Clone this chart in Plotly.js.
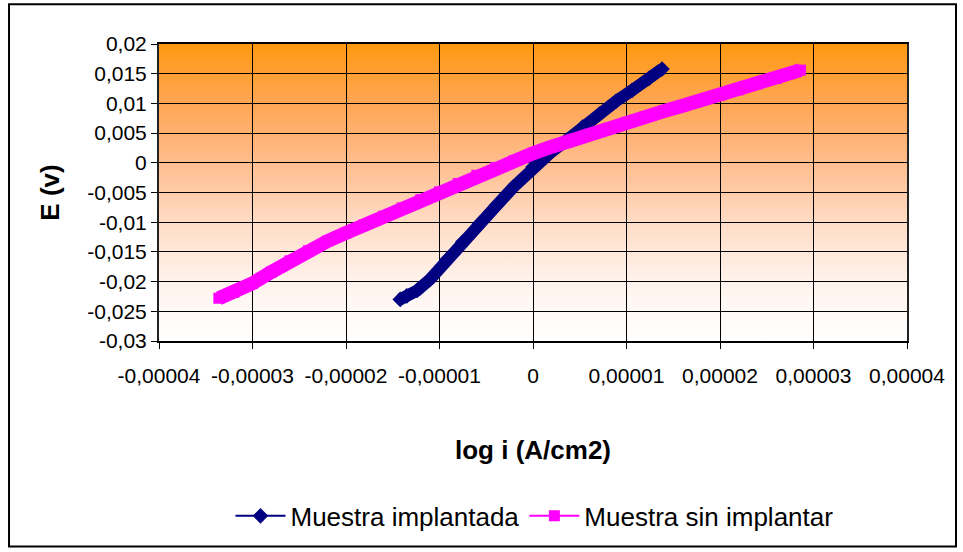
<!DOCTYPE html>
<html>
<head>
<meta charset="utf-8">
<script src="https://cdn.plot.ly/plotly-3.0.1.min.js"></script>
<style>
  body { margin: 0; background: #fff; }
  #chart { width: 963px; height: 552px; }
</style>
</head>
<body>
<div id="chart"></div>
<script>
// Muestra implantada (azul)
var implantadaX = [-1.42e-5, -1.35e-5, -1.24e-5, -1.10e-5, -0.92e-5, -0.75e-5, -0.57e-5, -0.39e-5, -0.21e-5,
                   0, 0.18e-5, 0.36e-5, 0.53e-5, 0.71e-5, 0.89e-5, 1.06e-5, 1.24e-5, 1.38e-5];
var implantadaY = [-0.0230, -0.0224, -0.0215, -0.0196, -0.0163, -0.0133, -0.0102, -0.0072, -0.0041,
                   -0.0007, 0.0016, 0.0038, 0.0060, 0.0082, 0.0104, 0.0122, 0.0142, 0.0158];

// Muestra sin implantar (rosa)
var sinImplantarX = [-3.36e-5, -3.2e-5, -3.0e-5, -2.8e-5, -2.6e-5, -2.4e-5, -2.2e-5, -2.0e-5, -1.8e-5, -1.6e-5,
                     -1.4e-5, -1.2e-5, -1.0e-5, -0.8e-5, -0.6e-5, -0.4e-5, -0.2e-5, 0, 0.2e-5, 0.4e-5,
                     0.6e-5, 0.8e-5, 1.0e-5, 1.2e-5, 1.4e-5, 1.6e-5, 1.8e-5, 2.0e-5, 2.2e-5, 2.4e-5,
                     2.6e-5, 2.86e-5];
var sinImplantarY = [-0.0228, -0.0218, -0.0203, -0.0184, -0.0165, -0.0148, -0.0132, -0.0118, -0.0104, -0.0090,
                     -0.0076, -0.0062, -0.0049, -0.0035, -0.0021, -0.0008, 0.0004, 0.0016, 0.0027, 0.0038,
                     0.0048, 0.0058, 0.0068, 0.0078, 0.0087, 0.0096, 0.0105, 0.0114, 0.0123, 0.0133,
                     0.0142, 0.0156];

var xTickVals = [-4e-5, -3e-5, -2e-5, -1e-5, 0, 1e-5, 2e-5, 3e-5, 4e-5];
var xTickText = ['-0,00004', '-0,00003', '-0,00002', '-0,00001', '0', '0,00001', '0,00002', '0,00003', '0,00004'];
var yTickVals = [-0.03, -0.025, -0.02, -0.015, -0.01, -0.005, 0, 0.005, 0.01, 0.015, 0.02];
var yTickText = ['-0,03', '-0,025', '-0,02', '-0,015', '-0,01', '-0,005', '0', '0,005', '0,01', '0,015', '0,02'];

var NAVY = '#000080';
var MAGENTA = '#FF00FF';
var FONT = 'Liberation Sans, Arial, sans-serif';

// fondo degradado naranja -> blanco
var gradSvg = "<svg xmlns='http://www.w3.org/2000/svg' width='10' height='100' preserveAspectRatio='none'>" +
  "<defs><linearGradient id='g' x1='0' y1='0' x2='0' y2='1'>" +
  "<stop offset='0' stop-color='#FF9912'/>" +
  "<stop offset='0.2' stop-color='#FFA654'/>" +
  "<stop offset='0.4' stop-color='#FFBD8E'/>" +
  "<stop offset='0.6' stop-color='#FFDCC6'/>" +
  "<stop offset='0.8' stop-color='#FFF3EC'/>" +
  "<stop offset='1' stop-color='#FFFFFF'/>" +
  "</linearGradient></defs><rect width='10' height='100' fill='url(#g)'/></svg>";

// bandas gruesas (sin leyenda) + trazas finas con marcador para la leyenda
var bandaImplantada = {
  x: implantadaX, y: implantadaY, type: 'scatter', mode: 'lines',
  line: {color: NAVY, width: 12}, showlegend: false, hoverinfo: 'skip'
};
var trazaImplantada = {
  x: implantadaX, y: implantadaY, type: 'scatter', mode: 'lines+markers',
  name: 'Muestra implantada',
  line: {color: NAVY, width: 2},
  marker: {symbol: 'diamond', size: 12, color: NAVY}
};
var bandaSin = {
  x: sinImplantarX, y: sinImplantarY, type: 'scatter', mode: 'lines',
  line: {color: MAGENTA, width: 14}, showlegend: false, hoverinfo: 'skip'
};
var trazaSin = {
  x: sinImplantarX, y: sinImplantarY, type: 'scatter', mode: 'lines+markers',
  name: 'Muestra sin implantar',
  line: {color: MAGENTA, width: 2},
  marker: {symbol: 'square', size: 11, color: MAGENTA}
};

var layout = {
  width: 963, height: 552,
  margin: {l: 159, r: 56, t: 44, b: 209},
  paper_bgcolor: '#FFFFFF',
  plot_bgcolor: 'rgba(0,0,0,0)',
  font: {family: FONT, color: '#000', size: 21},
  xaxis: {
    range: [-4e-5, 4e-5], tickvals: xTickVals, ticktext: xTickText,
    showgrid: true, gridcolor: '#000', gridwidth: 1, zeroline: false,
    showline: true, linecolor: '#000', linewidth: 2, mirror: true,
    ticks: 'outside', ticklen: 6, tickcolor: '#000',
    ticklabelstandoff: 9,
    tickfont: {size: 21},
    title: {text: '<b>log i (A/cm2)</b>', font: {size: 26}, standoff: 55}
  },
  yaxis: {
    range: [-0.03, 0.02], tickvals: yTickVals, ticktext: yTickText,
    showgrid: true, gridcolor: '#000', gridwidth: 1, zeroline: false,
    showline: true, linecolor: '#222', linewidth: 2, mirror: true,
    ticks: 'outside', ticklen: 6, tickcolor: '#000',
    tickfont: {size: 21},
    title: {text: '<b>E (v)</b>', font: {size: 26}, standoff: 20}
  },
  legend: {
    orientation: 'h', x: 0.502, xanchor: 'center', y: -0.589, yanchor: 'middle',
    font: {size: 26}, bgcolor: 'rgba(0,0,0,0)', itemwidth: 50
  },
  images: [{
    source: 'data:image/svg+xml;charset=utf-8,' + encodeURIComponent(gradSvg),
    xref: 'paper', yref: 'paper', x: 0, y: 1, sizex: 1, sizey: 1,
    sizing: 'stretch', layer: 'below'
  }],
  shapes: [{
    type: 'rect', xref: 'paper', yref: 'paper',
    x0: -0.2005, x1: 1.0655, y0: -0.6923, y1: 1.1338,
    line: {color: '#000', width: 2}
  }]
};

Plotly.newPlot('chart', [bandaImplantada, trazaImplantada, bandaSin, trazaSin], layout,
  {displayModeBar: false, staticPlot: true});
</script>
</body>
</html>
